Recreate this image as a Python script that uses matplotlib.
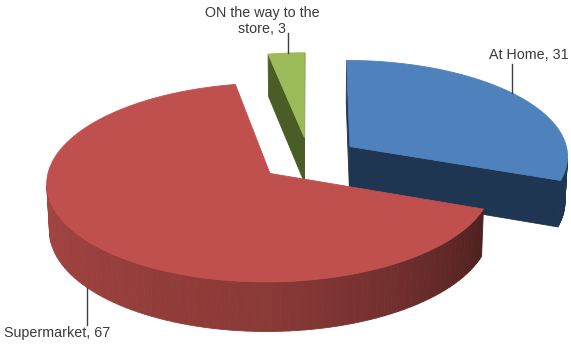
import numpy as np
import matplotlib.pyplot as plt
from matplotlib.patches import Polygon

# slice data (clockwise from 12 o'clock)
labels = ["At Home, 31", "Supermarket, 67", "ON the way to the\nstore, 3"]
values = [31, 67, 3]
top_colors = ["#4F81BD", "#C0504D", "#9BBB59"]
side_colors = ["#1F3652", "#C0504D", "#4A5D27"]

# view settings
elev = np.radians(26)
dist = 10.0
S = 219.0
cx, cy = 309.0, 159.0
thick = 0.235
explode = 0.23


def project(x, y, z):
    x, y, z = np.asarray(x), np.asarray(y), np.asarray(z)
    v = y * np.sin(elev) + z * np.cos(elev)
    w = y * np.cos(elev) - z * np.sin(elev)
    s = dist / (dist + w)
    return cx + S * x * s, cy - S * v * s


def signed_area(px, py):
    py = -py
    return 0.5 * np.sum(px * np.roll(py, -1) - np.roll(px, -1) * py)


def wall_shade(theta):
    t = np.degrees(theta) % 360
    return np.interp(t, [90, 180, 270, 300, 340, 360], [0.9, 0.87, 0.72, 0.6, 0.4, 0.4])


def shade(color, f):
    rgb = np.array(plt.matplotlib.colors.to_rgb(color))
    return tuple(np.clip(rgb * f, 0, 1))


fig = plt.figure(figsize=(5.71, 3.46), dpi=100)
ax = fig.add_axes([0, 0, 1, 1])
ax.set_xlim(0, 571)
ax.set_ylim(346, 0)
ax.axis("off")

total = sum(values)
spans = [v / total * 2 * np.pi for v in values]
slices = []
start = np.pi / 2
for i, span in enumerate(spans):
    a1 = start
    a0 = start - span
    start = a0
    mid = (a0 + a1) / 2
    ox, oy = explode * np.cos(mid), explode * np.sin(mid)
    slices.append((i, a0, a1, ox, oy))


def rim(ox, oy, t, z):
    return ox + np.cos(t), oy + np.sin(t), z


# far slices first
for i, a0, a1, ox, oy in sorted(slices, key=lambda s: -s[4]):
    faces = []
    zt, zb = 0.0, -thick
    # radial face at a0
    pts = [(ox, oy, zb), rim(ox, oy, a0, zb), rim(ox, oy, a0, zt), (ox, oy, zt)]
    faces.append((pts, shade(side_colors[i], 1.0 if i != 1 else 0.5)))
    # radial face at a1
    pts = [rim(ox, oy, a1, zb), (ox, oy, zb), (ox, oy, zt), rim(ox, oy, a1, zt)]
    faces.append((pts, shade(side_colors[i], 1.0 if i != 1 else 0.5)))
    # outer wall
    ts = np.linspace(a0, a1, 120)
    for t1, t2 in zip(ts[:-1], ts[1:]):
        pts = [rim(ox, oy, t1, zb), rim(ox, oy, t2, zb), rim(ox, oy, t2, zt), rim(ox, oy, t1, zt)]
        if i == 1:
            col = shade(top_colors[i], wall_shade((t1 + t2) / 2))
        else:
            col = side_colors[i]
        faces.append((pts, col))
    for pts, col in faces:
        xs, ys, zs = zip(*pts)
        px, py = project(xs, ys, zs)
        if signed_area(px, py) > 0:
            ax.add_patch(Polygon(np.column_stack([px, py]), closed=True,
                                 facecolor=col, edgecolor=col, lw=0.6))
    # top face
    ts = np.linspace(a0, a1, 200)
    xs = np.concatenate([[ox], ox + np.cos(ts)])
    ys = np.concatenate([[oy], oy + np.sin(ts)])
    px, py = project(xs, ys, np.zeros_like(xs))
    ax.add_patch(Polygon(np.column_stack([px, py]), closed=True,
                         facecolor=top_colors[i], edgecolor=top_colors[i], lw=0.6))

# data labels with leader lines
text_kw = dict(fontsize=10.3, family="Liberation Sans", color="#3A3A3A")
label_pos = [(529, 55), (57, 333), (262, 21)]
leader_angle = [np.radians(37), np.radians(219), np.radians(95)]
leader_top = [64, 325, 33]
for (i, a0, a1, ox, oy), (tx, ty), ang, lt in zip(slices, label_pos, leader_angle, leader_top):
    ax.text(tx, ty, labels[i], ha="center", va="center", linespacing=1.1, **text_kw)
    z = 0.0 if i != 1 else -thick
    px, py = project(ox + np.cos(ang), oy + np.sin(ang), z)
    ax.plot([px, px], [lt, py], color="#404040", lw=1)

fig.savefig("out.png", dpi=100)
